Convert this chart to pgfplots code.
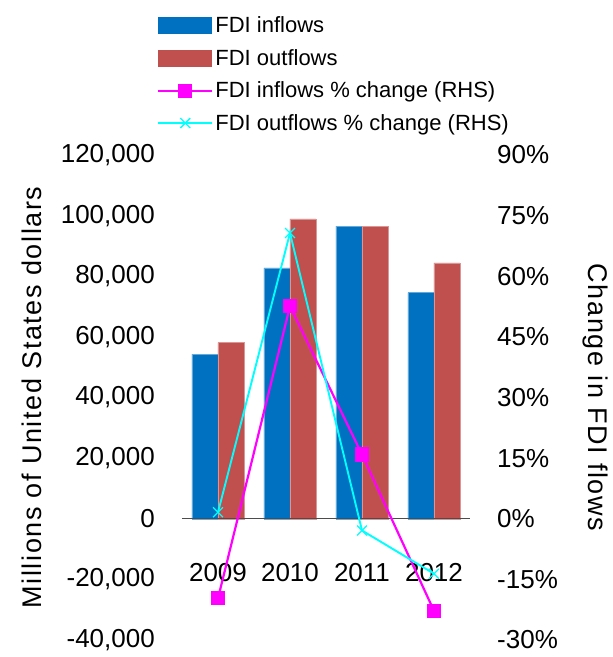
\documentclass[border=0pt]{standalone}
\usepackage{fontspec}
\setmainfont{Liberation Sans}
\newfontfamily\labfont[LetterSpace=6]{Liberation Sans}
\usepackage{pgfplots}
\usepackage{pgfplotstable}
\pgfplotsset{compat=1.18}
\definecolor{cin}{HTML}{0070C0}
\definecolor{cout}{HTML}{C0504D}
\definecolor{cmag}{HTML}{FF00FF}
\definecolor{ccy}{HTML}{00FFFF}
\pgfplotsset{
 barlegend/.style={legend image code/.code={\fill[##1] (0pt,-8.5pt) rectangle (54pt,8.5pt);}},
 linelegend/.style={legend image code/.code={\draw[mark repeat=2, mark phase=2, ##1] plot coordinates {(0pt,0pt) (27pt,0pt) (54pt,0pt)};}},
}
\pgfplotstableread{
x in out
0 54300 58100
1 82800 98900
2 96500 96500
3 74600 84400
}\flows
\pgfplotstableread{
x pin pout
0 -19.7 1.6
1 52.6 70.7
2 15.9 -2.9
3 -22.8 -13.6
}\pct
\begin{document}
\begin{tikzpicture}[font=\fontsize{26}{30}\selectfont]
\begin{axis}[
 scale only axis, width=288pt, height=485pt,
 xmin=-0.5, xmax=3.5, ymin=-40000, ymax=120000,
 scaled y ticks=false,
 axis line style={draw=none}, tick style={draw=none},
 ytick={-40000,-20000,...,120000},
 yticklabels={{-40,000},{-20,000},{0},{20,000},{40,000},{60,000},{80,000},{100,000},{120,000}},
 yticklabel style={anchor=east, inner sep=0pt, xshift=-27pt},
 xtick={0,1,2,3}, xticklabels={2009,2010,2011,2012},
 xticklabel style={anchor=center, inner sep=0pt, yshift=72pt},
 ybar=0pt, bar width=26pt,
 ylabel={Millions of United States dollars},
 every axis y label/.style={at={(axis description cs:-0.521,0.5)}, rotate=90, anchor=center, font=\labfont\fontsize{27}{32}\selectfont},
]
\addplot[fill=cin, draw=cin!60!white, line width=0.4pt] table[x=x,y=in]{\flows};
\addplot[fill=cout, draw=cout!60!white, line width=0.4pt] table[x=x,y=out]{\flows};
\draw[line width=1.5pt, black!70] (axis cs:-0.5,0) -- (axis cs:3.5,0);
\end{axis}
\begin{axis}[
 scale only axis, width=288pt, height=485pt,
 xmin=-0.5, xmax=3.5, ymin=-30, ymax=90,
 axis line style={draw=none}, tick style={draw=none},
 xtick=\empty,
 ytick={-30,-15,...,90},
 yticklabels={{-30\%},{-15\%},{0\%},{15\%},{30\%},{45\%},{60\%},{75\%},{90\%}},
 yticklabel pos=right,
 yticklabel style={anchor=west, inner sep=0pt, xshift=27pt},
 ylabel={Change in FDI flows},
 every axis y label/.style={at={(axis description cs:1.434,0.5)}, rotate=-90, anchor=center, font=\labfont\fontsize{27}{32}\selectfont},
 legend style={at={(axis description cs:-0.0868,1.289)}, anchor=north west, draw=none, fill=none, inner sep=0pt, font=\fontsize{22}{26}\selectfont, row sep=11pt},
 legend cell align=left,
]
\addlegendimage{barlegend, fill=cin, draw=none}
\addlegendentry{FDI inflows}
\addlegendimage{barlegend, fill=cout, draw=none}
\addlegendentry{FDI outflows}
\addplot[linelegend, cmag, line width=2.2pt, mark=square*, mark size=6pt] table[x=x,y=pin]{\pct};
\addlegendentry{FDI inflows \% change (RHS)}
\addplot[linelegend, ccy, line width=1.9pt, mark=x, mark size=7pt, mark options={line width=1.3pt}] table[x=x,y=pout]{\pct};
\addlegendentry{FDI outflows \% change (RHS)}
\end{axis}
\pgfresetboundingbox
\path (-182pt,-17pt) rectangle (431pt,640pt);
\end{tikzpicture}
\end{document}
